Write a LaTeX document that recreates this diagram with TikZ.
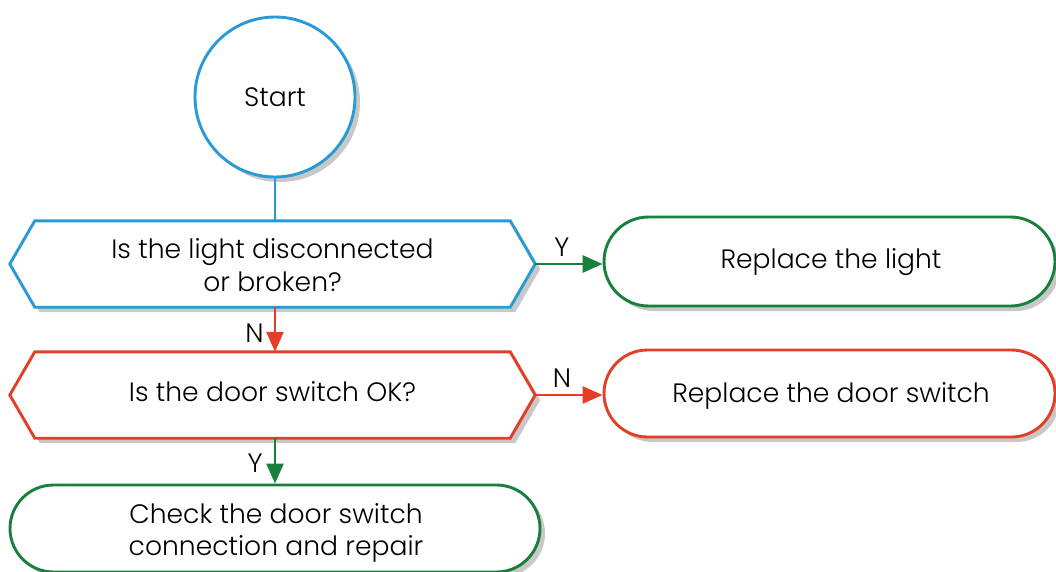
\documentclass[tikz,border=0pt]{standalone}
\usepackage{fontspec}
\setmainfont{Poppins Light}
\usetikzlibrary{shapes.misc,shadows,arrows.meta,backgrounds}
\definecolor{cblue}{HTML}{2A9AD6}
\definecolor{cgreen}{HTML}{17803D}
\definecolor{cred}{HTML}{E43D28}
\definecolor{cshadow}{HTML}{C8C8C8}
\tikzset{
  shade5/.style={drop shadow={shadow xshift=5pt,shadow yshift=-5pt,fill=cshadow,opacity=1}},
  txt/.style={font=\fontsize{26.6}{32.5}\selectfont,align=center,text=black},
  startnode/.style={circle,draw=cblue,line width=2.9pt,fill=white,minimum size=160pt,inner sep=0,shade5,txt},
  hexanchor/.style={rectangle,minimum width=525pt,minimum height=86pt,inner sep=0,txt},
  pill/.style={rounded rectangle,line width=2.9pt,fill=white,inner sep=0,shade5,txt},
  hexline/.style={line width=2.9pt,fill=white,line join=miter,shade5},
  conn/.style={line width=2.9pt,-{Triangle[length=20pt,width=17pt]}},
  lbl/.style={font=\fontsize{26.6}{30}\selectfont,text=black,inner sep=3pt}
}
\begin{document}
\begin{tikzpicture}[x=1pt,y=-1pt]
\useasboundingbox[clip] (0,0) rectangle (1056,572);
\node[startnode] (start) at (275,97) {Start};
\node[hexanchor] (q1) at (272.5,264) {};
\node[txt] (q1t) at (272.5,265) {Is the light disconnected\\or broken?};
\node[hexanchor] (q2) at (272.5,395) {};
\node[txt] (q2t) at (272.5,392) {Is the door switch OK?};
\node[pill,draw=cgreen,minimum width=451pt,minimum height=89pt] (r1) at (829.5,261.5) {};
\node[txt] (r1t) at (831,262) {Replace the light};
\node[pill,draw=cred,minimum width=451pt,minimum height=87pt] (r2) at (829.5,393.5) {};
\node[txt] (r2t) at (831,396) {Replace the door switch};
\node[pill,draw=cgreen,minimum width=530pt,minimum height=87pt] (r3) at (275,528.5) {};
\node[txt] (r3t) at (276,533) {Check the door switch\\connection and repair};
\begin{scope}[on background layer]
\draw[hexline,draw=cblue] ([xshift=25pt]q1.north west) -- ([xshift=-25pt]q1.north east) -- (q1.east) -- ([xshift=-25pt]q1.south east) -- ([xshift=25pt]q1.south west) -- (q1.west) -- cycle;
\draw[hexline,draw=cred] ([xshift=25pt]q2.north west) -- ([xshift=-25pt]q2.north east) -- (q2.east) -- ([xshift=-25pt]q2.south east) -- ([xshift=25pt]q2.south west) -- (q2.west) -- cycle;
\end{scope}
\draw[line width=2.9pt,draw=cblue] (start.south) -- (q1.north -| start.south);
\draw[conn,draw=cgreen,fill=cgreen] (q1.east) -- node[lbl,above,xshift=-7pt,yshift=3pt] {Y} (r1.west |- q1.east);
\draw[conn,draw=cred,fill=cred] (q1.south -| start.south) -- node[lbl,left,xshift=-7pt,yshift=-4pt] {N} (q2.north -| start.south);
\draw[conn,draw=cred,fill=cred] (q2.east) -- node[lbl,above,xshift=-7pt,yshift=3pt] {N} (r2.west |- q2.east);
\draw[conn,draw=cgreen,fill=cgreen] (q2.south -| start.south) -- node[lbl,left,xshift=-8pt,yshift=-2pt] {Y} (r3.north -| start.south);
\end{tikzpicture}
\end{document}
